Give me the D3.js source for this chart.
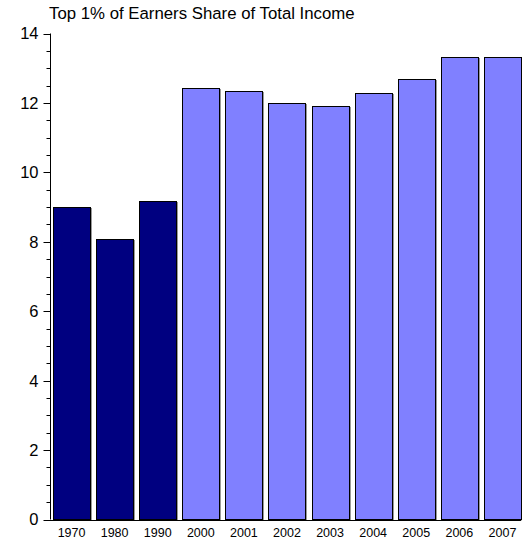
<!DOCTYPE html>
<html><head><meta charset="utf-8">
<script src="https://cdn.jsdelivr.net/npm/d3@7"></script>
<style>body{margin:0;background:#fff}svg{display:block}text{font-family:"Liberation Sans",Arial,sans-serif}</style>
</head><body>
<svg id="c" width="522" height="543"></svg>
<script>
const years = ["1970","1980","1990","2000","2001","2002","2003","2004","2005","2006","2007"];
const shares = [8.99, 8.08, 9.18, 12.43, 12.35, 11.99, 11.92, 12.28, 12.69, 13.31, 13.32];
const groups = ["early","early","early","late","late","late","late","late","late","late","late"];
const yTicks = [0,2,4,6,8,10,12,14];
const title = "Top 1% of Earners Share of Total Income";

const svg = d3.select("#c");
const x = d3.scaleBand().domain(years).range([50, 524]).paddingInner(0.14).paddingOuter(0.07);
const y = d3.scaleLinear().domain([0, 14]).range([519.5, 33.5]);
const color = d3.scaleOrdinal().domain(["early","late"]).range(["#000080","#8080ff"]);

const data = years.map((yr,i)=>({yr, v:shares[i], g:groups[i]}));

// shadows
svg.append("g").selectAll("rect").data(data).join("rect")
  .attr("x", d=>Math.round(x(d.yr))+1.5)
  .attr("y", d=>Math.round(y(d.v))+1.5)
  .attr("width", Math.round(x.bandwidth()))
  .attr("height", d=>y(0)-Math.round(y(d.v))-1)
  .attr("fill","none").attr("stroke","#999").attr("stroke-width",1);
// bars
svg.append("g").selectAll("rect").data(data).join("rect")
  .attr("x", d=>Math.round(x(d.yr))+0.5)
  .attr("y", d=>Math.round(y(d.v))+0.5)
  .attr("width", Math.round(x.bandwidth()))
  .attr("height", d=>y(0)-Math.round(y(d.v))-0.5)
  .attr("fill", d=>color(d.g)).attr("stroke","#000").attr("stroke-width",1);

// y axis
const ax = svg.append("g").attr("transform","translate(50.5,0)");
ax.append("line").attr("x1",0).attr("x2",0).attr("y1",y(14)).attr("y2",y(0)).attr("stroke","#000");
const minor = d3.range(0, 14.01, 0.5).filter(v=>v%2!==0);
ax.selectAll("line.mi").data(minor).join("line").attr("class","mi")
  .attr("x1",-4).attr("x2",0).attr("y1",d=>Math.round(y(d))+0.5).attr("y2",d=>Math.round(y(d))+0.5).attr("stroke","#000");
ax.selectAll("line.ma").data(yTicks).join("line").attr("class","ma")
  .attr("x1",-7).attr("x2",0).attr("y1",d=>Math.round(y(d))+0.5).attr("y2",d=>Math.round(y(d))+0.5).attr("stroke","#000");
ax.selectAll("text").data(yTicks).join("text")
  .attr("x",-12).attr("y",d=>y(d)).attr("dy","0.36em").attr("text-anchor","end")
  .attr("font-size",16.5).attr("fill","#000").text(d=>d);
// baseline
svg.append("line").attr("x1",44).attr("x2",x(years[years.length-1])+x.bandwidth()).attr("y1",Math.round(y(0))+0.5).attr("y2",Math.round(y(0))+0.5).attr("stroke","#000");

// x labels
svg.append("g").selectAll("text").data(years).join("text")
  .attr("x",d=>x(d)+x.bandwidth()/2).attr("y",537).attr("text-anchor","middle")
  .attr("font-size",12.5).attr("fill","#000").text(d=>d);

svg.append("text").attr("x",49).attr("y",19).attr("font-size",16.8).attr("fill","#000").text(title);
</script>
</body></html>
